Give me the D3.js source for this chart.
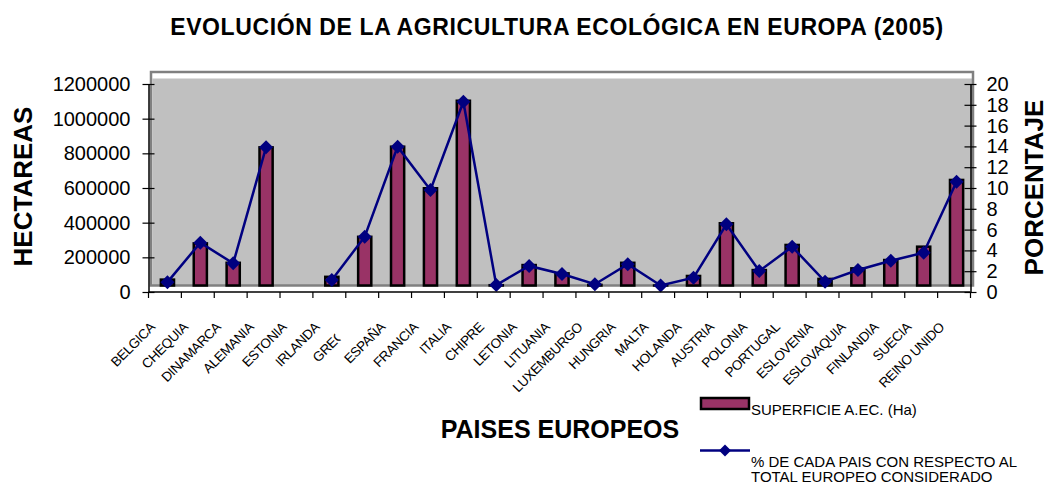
<!DOCTYPE html>
<html>
<head>
<meta charset="utf-8">
<script src="https://cdn.jsdelivr.net/npm/d3@7"></script>
<style>
  body { margin: 0; background: #ffffff; }
  svg { display: block; font-family: "Liberation Sans", Arial, sans-serif; }
</style>
</head>
<body>
<svg id="chart" width="1048" height="485"></svg>
<script>
// data
var paises = ["BELGICA", "CHEQUIA", "DINAMARCA", "ALEMANIA", "ESTONIA", "IRLANDA", "GRECIA",
    "ESPAÑA", "FRANCIA", "ITALIA", "CHIPRE", "LETONIA", "LITUANIA", "LUXEMBURGO", "HUNGRIA",
    "MALTA", "HOLANDA", "AUSTRIA", "POLONIA", "PORTUGAL", "ESLOVENIA", "ESLOVAQUIA",
    "FINLANDIA", "SUECIA", "REINO UNIDO"];
var superficie = [34000, 243000, 131000, 797000, null, 50000, 281000,
    801000, 561000, 1066000, 1700, 118000, 70000, 3600, 131000,
    14, 55000, 359000, 89000, 234000, 38000, 99000,
    147000, 224000, 609000];
var porcentaje = [0.32, 4.12, 2.13, 13.29, null, 0.53, 4.69,
    13.35, 9.18, 17.67, 0.05, 1.88, 1.11, 0.12, 2.04,
    0.0, 0.75, 5.88, 1.39, 3.73, 0.37, 1.49,
    2.38, 3.15, 9.98];
var ticksHa = [0, 200000, 400000, 600000, 800000, 1000000, 1200000];
var ticksPct = [0, 2, 4, 6, 8, 10, 12, 14, 16, 18, 20];

var axis_left = 148.5, axis_right = 970.5, axis_top = 84, axis_bottom = 292;
var depth_x = 2.5, depth_y = -6.5;
var bar_color = "#993366", line_color = "#000080";
var tickFont = 20;

var svg = d3.select("#chart");

var x = d3.scaleBand().domain(paises).range([axis_left, axis_right]).padding(0);
var yHa = d3.scaleLinear().domain([0, 1200000]).range([axis_bottom, axis_top]);
var yPct = d3.scaleLinear().domain([0, 20]).range([axis_bottom, axis_top]);

// Title
svg.append("text")
    .text("EVOLUCIÓN DE LA AGRICULTURA ECOLÓGICA EN EUROPA (2005)")
    .attr("x", 557)
    .attr("y", 35)
    .attr("text-anchor", "middle")
    .attr("font-size", 23)
    .attr("letter-spacing", 0.6)
    .attr("font-weight", "bold");

// Plot area (drawn with the little depth offset Excel uses)
var plot = svg.append("g").attr("transform", "translate(" + depth_x + "," + depth_y + ")");
plot.append("rect")
    .attr("x", axis_left + 1.5)
    .attr("y", axis_top + 1)
    .attr("width", axis_right - axis_left - 1.5)
    .attr("height", axis_bottom - axis_top - 1)
    .attr("fill", "#c0c0c0");
plot.append("rect")
    .attr("x", axis_left)
    .attr("y", axis_top - 5.5)
    .attr("width", axis_right - axis_left)
    .attr("height", axis_bottom - axis_top + 5.5)
    .attr("fill", "none")
    .attr("stroke", "#808080")
    .attr("stroke-width", 2.5);

// Bars
var barW = x.bandwidth() * 0.40;
plot.selectAll("rect.bar")
    .data(paises.map(function(p, i){ return {pais: p, v: superficie[i]}; })
        .filter(function(d){ return d.v != null; }))
    .enter()
    .append("rect")
    .attr("class", "bar")
    .attr("x", function(d){ return x(d.pais) + x.bandwidth() / 2 - barW / 2; })
    .attr("y", function(d){ return yHa(d.v); })
    .attr("width", barW)
    .attr("height", function(d){ return yHa(0) - yHa(d.v); })
    .attr("fill", bar_color)
    .attr("stroke", "#000000")
    .attr("stroke-width", 2.5);

// Line
var pts = paises.map(function(p, i){ return {pais: p, v: porcentaje[i]}; });
var line = d3.line()
    .defined(function(d){ return d.v != null; })
    .x(function(d){ return x(d.pais) + x.bandwidth() / 2; })
    .y(function(d){ return yPct(d.v); });
plot.append("path")
    .datum(pts)
    .attr("d", line)
    .attr("fill", "none")
    .attr("stroke", line_color)
    .attr("stroke-width", 2.5);

var diamond = "M0,-7L7,0L0,7L-7,0Z";
plot.selectAll("path.marker")
    .data(pts.filter(function(d){ return d.v != null; }))
    .enter()
    .append("path")
    .attr("class", "marker")
    .attr("d", diamond)
    .attr("transform", function(d){
        return "translate(" + (x(d.pais) + x.bandwidth() / 2) + "," + yPct(d.v) + ")";
    })
    .attr("fill", line_color);

// Axis left
var gLeft = svg.append("g")
    .attr("transform", "translate(" + axis_left + ",0)")
    .call(d3.axisLeft(yHa).tickValues(ticksHa).tickFormat(d3.format("d")).tickSizeOuter(0));
gLeft.select(".domain").attr("stroke", "#000").attr("stroke-width", 1.5);
gLeft.selectAll(".tick line").attr("x1", -6).attr("x2", 6).attr("stroke-width", 1.2);
gLeft.selectAll(".tick text")
    .attr("x", -18)
    .attr("font-size", tickFont)
    .attr("font-family", "Liberation Sans, Arial, sans-serif")
    .attr("fill", "#000");

// Axis right
var gRight = svg.append("g")
    .attr("transform", "translate(" + axis_right + ",0)")
    .call(d3.axisRight(yPct).tickValues(ticksPct).tickSizeOuter(0));
gRight.select(".domain").attr("stroke", "#000").attr("stroke-width", 1.5);
gRight.selectAll(".tick line").attr("x1", -6).attr("x2", 6).attr("stroke-width", 1.2);
gRight.selectAll(".tick text")
    .attr("x", 16)
    .attr("font-size", tickFont)
    .attr("font-family", "Liberation Sans, Arial, sans-serif")
    .attr("fill", "#000");

// Axis bottom: ticks between categories, labels slanted
var gBottom = svg.append("g");
gBottom.append("line")
    .attr("x1", axis_left).attr("x2", axis_right)
    .attr("y1", axis_bottom).attr("y2", axis_bottom)
    .attr("stroke", "#000").attr("stroke-width", 1.5);
var bounds = paises.map(function(p){ return x(p); }).concat([axis_right]);
gBottom.selectAll("line.tk")
    .data(bounds)
    .enter()
    .append("line")
    .attr("class", "tk")
    .attr("x1", function(d){ return d; }).attr("x2", function(d){ return d; })
    .attr("y1", axis_bottom).attr("y2", axis_bottom + 6)
    .attr("stroke", "#000").attr("stroke-width", 1.2);

var labels = gBottom.selectAll("g.lab")
    .data(paises)
    .enter()
    .append("g")
    .attr("class", "lab")
    .attr("transform", function(d){
        return "translate(" + (x(d) + x.bandwidth() / 2 - 9) + "," + (axis_bottom + 36) + ") rotate(-45)";
    })
    .append("text")
    .text(function(d){ return d; })
    .attr("text-anchor", "end")
    .attr("font-size", 13.5)
    .attr("letter-spacing", -0.4);

// GRECIA label is cut short in the original
var defs = svg.append("defs");
labels.filter(function(d){ return d == "GRECIA"; }).each(function(){
    var total = this.getComputedTextLength();
    var keep = this.getSubStringLength(0, 3) + 0.45 * this.getSubStringLength(3, 1);
    defs.append("clipPath").attr("id", "clipGre")
        .append("rect")
        .attr("x", -total - 10).attr("y", -20)
        .attr("width", keep + 10).attr("height", 30);
    d3.select(this).attr("clip-path", "url(#clipGre)");
});

// Axis titles
svg.append("text")
    .text("HECTAREAS")
    .attr("transform", "translate(32,186.5) rotate(-90)")
    .attr("text-anchor", "middle")
    .attr("font-size", 26)
    .attr("font-weight", "bold");
svg.append("text")
    .text("PORCENTAJE")
    .attr("transform", "translate(1043,187.5) rotate(-90)")
    .attr("text-anchor", "middle")
    .attr("font-size", 26)
    .attr("font-weight", "bold");
svg.append("text")
    .text("PAISES EUROPEOS")
    .attr("x", 560)
    .attr("y", 438)
    .attr("text-anchor", "middle")
    .attr("font-size", 25)
    .attr("font-weight", "bold");

// Legend
var legend = svg.append("g");
legend.append("rect")
    .attr("x", 701).attr("y", 398)
    .attr("width", 48).attr("height", 11)
    .attr("fill", bar_color)
    .attr("stroke", "#000").attr("stroke-width", 2.5);
legend.append("text")
    .text("SUPERFICIE A.EC. (Ha)")
    .attr("x", 751).attr("y", 415)
    .attr("font-size", 15);
legend.append("line")
    .attr("x1", 700).attr("x2", 750)
    .attr("y1", 450.5).attr("y2", 450.5)
    .attr("stroke", line_color).attr("stroke-width", 2.5);
legend.append("path")
    .attr("d", "M0,-6L6,0L0,6L-6,0Z")
    .attr("transform", "translate(725,450.5)")
    .attr("fill", line_color);
legend.append("text")
    .text("% DE CADA PAIS CON RESPECTO AL")
    .attr("x", 751).attr("y", 467)
    .attr("font-size", 15);
legend.append("text")
    .text("TOTAL EUROPEO CONSIDERADO")
    .attr("x", 751).attr("y", 482)
    .attr("font-size", 15);
</script>
</body>
</html>
